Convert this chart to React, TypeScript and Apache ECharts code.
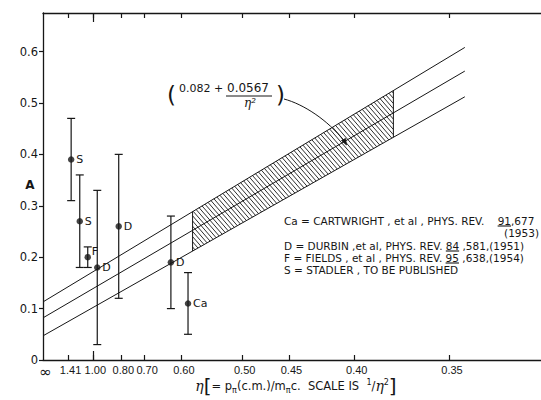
import React, { useEffect, useRef } from "react";
import * as echarts from "echarts";

// x axis is linear in 1/eta^2; tick labels are eta values
const etaTickLabels = ["∞", "1.41", "1.00", "0.80", "0.70", "0.60", "0.50", "0.45", "0.40", "0.35"];
const etaTickValues = [Infinity, 1.41, 1.0, 0.8, 0.7, 0.6, 0.5, 0.45, 0.4, 0.35];
const aTickValues = [0, 0.1, 0.2, 0.3, 0.4, 0.5, 0.6];

// measured points (eta, A, error range)
const pointLabels = ["S", "S", "F", "D", "D", "D", "Ca"];
const pointEta = [1.33, 1.164, 1.055, 0.958, 0.811, 0.624, 0.586];
const pointA = [0.39, 0.27, 0.2, 0.18, 0.26, 0.19, 0.11];
const pointLow = [0.31, 0.18, 0.18, 0.03, 0.12, 0.1, 0.05];
const pointHigh = [0.47, 0.36, 0.22, 0.33, 0.4, 0.28, 0.17];

// fit lines: A at eta = ∞ and at the right end of the lines
const lineEtaEnd = 0.3436;
const upperLineA = [0.113, 0.608];
const centerLineA = [0.082, 0.562];
const lowerLineA = [0.047, 0.512];

// hatched region (eta range)
const bandEta = [0.577, 0.377];

// reference legend
const legendRows = [
  { pre: "Ca = CARTWRIGHT , et al , PHYS. REV.    ", ul: "91", post: ",677" },
  { pre: "D = DURBIN ,et al, PHYS. REV. ", ul: "84", post: " ,581,(1951)" },
  { pre: "F = FIELDS , et al , PHYS. REV. ", ul: "95", post: " ,638,(1954)" },
  { pre: "S = STADLER , TO BE PUBLISHED", ul: "", post: "" },
];
const legendYear = "(1953)";

export default function App() {
  const ref = useRef<HTMLDivElement>(null);

  useEffect(() => {
    document.body.style.margin = "0";
    const el = ref.current!;
    const chart = echarts.init(el, null, { renderer: "svg" });
    const FONT = "DejaVu Sans";
    const TICKFONT = "Liberation Sans";
    const INK = "#161616";

    const toU = (eta: number) => (isFinite(eta) ? 1 / (eta * eta) : 0);
    const uEnd = toU(lineEtaEnd);
    const lineAt = (ends: number[], u: number) => ends[0] + ((ends[1] - ends[0]) * u) / uEnd;
    const tickU = etaTickValues.map(toU);
    const labelFor = (v: number) => {
      const i = tickU.findIndex((t) => Math.abs(t - v) < 1e-6);
      if (i < 0) return "";
      return i === 0 ? "{inf|" + etaTickLabels[i] + "}" : etaTickLabels[i];
    };

    const ctx = document.createElement("canvas").getContext("2d")!;
    const measure = (t: string, size: number) => {
      ctx.font = `${size}px "${FONT}"`;
      return ctx.measureText(t).width;
    };

    const lineSeries = (ends: number[]) => ({
      type: "line",
      data: [
        [0, ends[0]],
        [uEnd, ends[1]],
      ],
      symbol: "none",
      silent: true,
      lineStyle: { color: INK, width: 1 },
      z: 3,
    });

    const bandRender = (_params: any, api: any) => {
      const uS = api.value(0);
      const uE = api.value(1);
      const pUS = api.coord([uS, lineAt(upperLineA, uS)]);
      const pUE = api.coord([uE, lineAt(upperLineA, uE)]);
      const pLS = api.coord([uS, lineAt(lowerLineA, uS)]);
      const pLE = api.coord([uE, lineAt(lowerLineA, uE)]);
      const x0 = pUS[0];
      const x1 = pUE[0];
      const su = (pUE[1] - pUS[1]) / (x1 - x0);
      const sl = (pLE[1] - pLS[1]) / (x1 - x0);
      const children: any[] = [];
      const step = 5.2;
      const k = 1.15; // hatch slope (down-right)
      const cMin = pUE[1] - k * x1;
      const cMax = pLS[1] - k * x0;
      for (let c = cMin + step / 2; c <= cMax; c += step) {
        const xa = Math.max(x0, (pUS[1] - su * x0 - c) / (k - su));
        const xb = Math.min(x1, (pLS[1] - sl * x0 - c) / (k - sl));
        if (xb > xa) {
          children.push({
            type: "line",
            shape: { x1: xa, y1: k * xa + c, x2: xb, y2: k * xb + c },
            style: { stroke: INK, lineWidth: 0.9 },
          });
        }
      }
      children.push({
        type: "line",
        shape: { x1: pUS[0], y1: pUS[1], x2: pLS[0], y2: pLS[1] },
        style: { stroke: INK, lineWidth: 1 },
      });
      children.push({
        type: "line",
        shape: { x1: pUE[0], y1: pUE[1], x2: pLE[0], y2: pLE[1] },
        style: { stroke: INK, lineWidth: 1 },
      });
      return { type: "group", children };
    };

    // error bars + point letters
    const errRender = (params: any, api: any) => {
      const u = api.value(0);
      const lo = api.coord([u, api.value(1)]);
      const hi = api.coord([u, api.value(2)]);
      const pt = api.coord([u, api.value(3)]);
      const name = pointLabels[params.dataIndex];
      const isF = name === "F";
      const w = 4;
      const st = { stroke: INK, lineWidth: 1.2 };
      return {
        type: "group",
        children: [
          { type: "line", shape: { x1: lo[0], y1: lo[1], x2: hi[0], y2: hi[1] }, style: st },
          { type: "line", shape: { x1: lo[0] - w, y1: lo[1], x2: lo[0] + w, y2: lo[1] }, style: st },
          { type: "line", shape: { x1: hi[0] - w, y1: hi[1], x2: hi[0] + w, y2: hi[1] }, style: st },
          {
            type: "text",
            x: pt[0] + (isF ? 4 : 5),
            y: pt[1] + (isF ? -6 : 0),
            style: {
              text: name,
              fill: INK,
              fontFamily: FONT,
              fontSize: 11,
              align: "left",
              verticalAlign: "middle",
            },
          },
        ],
      };
    };

    const axisBase = {
      type: "value",
      min: 0,
      max: 10,
      splitLine: { show: false },
    };

    // legend graphics
    const legendX = 284;
    const legendY = [221, 246, 258, 270];
    const legendSize = 10.5;
    const legendGraphics: any[] = [];
    legendRows.forEach((row, i) => {
      legendGraphics.push({
        type: "text",
        x: legendX,
        y: legendY[i],
        style: {
          text: row.pre + row.ul + row.post,
          fontFamily: FONT,
          fontSize: legendSize,
          fill: INK,
          verticalAlign: "middle",
        },
      });
      if (row.ul) {
        const ux = legendX + measure(row.pre, legendSize);
        const uw = measure(row.ul, legendSize);
        legendGraphics.push({
          type: "line",
          shape: { x1: ux, y1: legendY[i] + 5, x2: ux + uw, y2: legendY[i] + 5 },
          style: { stroke: INK, lineWidth: 1.1 },
        });
      }
    });
    legendGraphics.push({
      type: "text",
      x: 539,
      y: 233,
      style: {
        text: legendYear,
        fontFamily: FONT,
        fontSize: legendSize,
        fill: INK,
        align: "right",
        verticalAlign: "middle",
      },
    });

    const option: any = {
      animation: false,
      backgroundColor: "#ffffff",
      grid: { left: 43, top: 13, right: -22, bottom: 40, containLabel: false },
      xAxis: [
        {
          ...axisBase,
          position: "bottom",
          axisLine: { show: true, onZero: false, lineStyle: { color: INK, width: 1.3 } },
          axisTick: { show: true, inside: true, length: 5, customValues: tickU.slice(1), lineStyle: { color: INK, width: 1.2 } },
          axisLabel: {
            show: true,
            customValues: tickU,
            formatter: labelFor,
            color: INK,
            fontFamily: TICKFONT,
            fontSize: 11,
            margin: 4,
            padding: [0, 0, 0, 5],
            rich: {
              inf: { fontFamily: FONT, fontSize: 15, color: INK, padding: [0, 0, 2, 0] },
            },
          },
        },
        {
          ...axisBase,
          position: "top",
          axisLine: { show: true, onZero: false, lineStyle: { color: INK, width: 1.3 } },
          axisTick: { show: true, inside: true, length: 5, customValues: tickU.slice(1), lineStyle: { color: INK, width: 1.2 } },
          axisLabel: { show: false },
        },
        {
          ...axisBase,
          position: "bottom",
          axisLine: { show: false, onZero: false },
          axisTick: { show: true, inside: true, length: 9, customValues: [toU(1.0)], lineStyle: { color: INK, width: 1.2 } },
          axisLabel: { show: false },
        },
        {
          ...axisBase,
          position: "top",
          axisLine: { show: false, onZero: false },
          axisTick: { show: true, inside: true, length: 9, customValues: [toU(1.0)], lineStyle: { color: INK, width: 1.2 } },
          axisLabel: { show: false },
        },
      ],
      yAxis: {
        type: "value",
        min: 0,
        max: 0.675,
        splitLine: { show: false },
        axisLine: { show: true, lineStyle: { color: INK, width: 1.3 } },
        axisTick: { show: true, inside: false, length: 4, customValues: aTickValues, lineStyle: { color: INK, width: 1.2 } },
        axisLabel: {
          customValues: aTickValues,
          formatter: (v: number) => (v === 0 ? "0" : v.toFixed(1)),
          color: INK,
          fontFamily: FONT,
          fontSize: 11.5,
          margin: 5,
        },
      },
      series: [
        lineSeries(upperLineA),
        lineSeries(centerLineA),
        lineSeries(lowerLineA),
        {
          type: "custom",
          renderItem: bandRender,
          data: [[toU(bandEta[0]), toU(bandEta[1])]],
          encode: { x: [0, 1] },
          silent: true,
          z: 2,
        },
        {
          type: "custom",
          renderItem: errRender,
          data: pointEta.map((e, i) => [toU(e), pointLow[i], pointHigh[i], pointA[i]]),
          encode: { x: 0, y: [1, 2] },
          silent: true,
          z: 4,
        },
        {
          type: "scatter",
          data: pointEta.map((e, i) => [toU(e), pointA[i]]),
          symbol: "circle",
          symbolSize: 6.5,
          itemStyle: { color: INK },
          z: 5,
          silent: true,
        },
      ],
      graphic: [
        // y-axis name
        { type: "text", x: 30, y: 185, style: { text: "A", fontFamily: FONT, fontSize: 12, fontWeight: "bold", fill: INK, align: "center", verticalAlign: "middle" } },
        // formula annotation
        { type: "text", x: 167, y: 95, style: { text: "(", fontFamily: FONT, fontSize: 23, fill: INK, verticalAlign: "middle" } },
        { type: "text", x: 179, y: 94, style: { text: "0.082 +", fontFamily: FONT, fontSize: 11, fill: INK, verticalAlign: "bottom" } },
        { type: "text", x: 227, y: 94, style: { text: "0.0567", fontFamily: FONT, fontSize: 12, fill: INK, verticalAlign: "bottom" } },
        { type: "line", shape: { x1: 226, y1: 96, x2: 272, y2: 96 }, style: { stroke: INK, lineWidth: 1 } },
        { type: "text", x: 250, y: 97, style: { text: "η²", fontFamily: "DejaVu Serif", fontSize: 12, fontStyle: "italic", fill: INK, align: "center", verticalAlign: "top" } },
        { type: "text", x: 276, y: 95, style: { text: ")", fontFamily: FONT, fontSize: 23, fill: INK, verticalAlign: "middle" } },
        {
          type: "bezierCurve",
          shape: { x1: 284, y1: 99, cpx1: 303, cpy1: 104, cpx2: 328, cpy2: 120, x2: 344, y2: 141 },
          style: { stroke: INK, lineWidth: 1, fill: null },
        },
        {
          type: "polygon",
          shape: { points: [[346.5, 145], [341.5, 140.5], [345.5, 138.5]] },
          style: { fill: INK, stroke: INK, lineWidth: 0.8 },
        },
        // x-axis title
        {
          type: "text",
          x: 296,
          y: 386,
          style: {
            text: "{e|η}{b|[}{n|= p}{s|π}{n|(c.m.)/m}{s|π}{n|c.  SCALE IS  }{p|1}{n|/}{e|η}{p|2}{b|]}",
            align: "center",
            verticalAlign: "middle",
            fill: INK,
            rich: {
              e: { fontFamily: "DejaVu Serif", fontStyle: "italic", fontSize: 14, verticalAlign: "middle", fill: INK },
              b: { fontFamily: FONT, fontSize: 20, lineHeight: 22, verticalAlign: "middle", fill: INK },
              n: { fontFamily: FONT, fontSize: 11.5, verticalAlign: "middle", fill: INK },
              s: { fontFamily: FONT, fontSize: 8, verticalAlign: "bottom", padding: [0, 0, 3, 0], fill: INK },
              p: { fontFamily: FONT, fontSize: 8, verticalAlign: "top", padding: [3, 0, 0, 0], fill: INK },
            },
          },
        },
        ...legendGraphics,
      ],
    };

    chart.setOption(option);
    return () => chart.dispose();
  }, []);

  return <div ref={ref} style={{ width: 541, height: 400 }} />;
}
